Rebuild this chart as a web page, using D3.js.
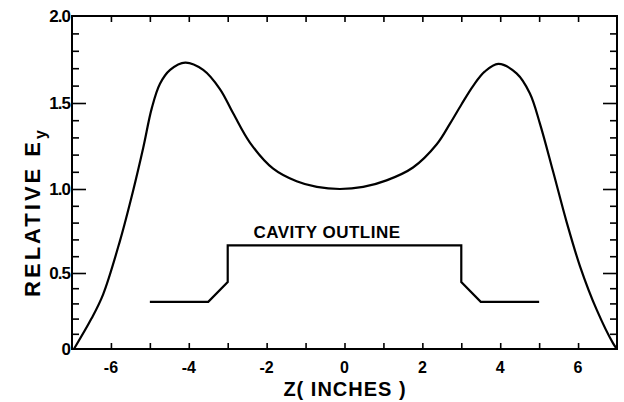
<!DOCTYPE html>
<html>
<head>
<meta charset="utf-8">
<script src="https://cdn.jsdelivr.net/npm/d3@7"></script>
<style>
  body { margin: 0; background: #fff; }
  text { font-family: "Liberation Sans", Arial, sans-serif; fill: #000; }
</style>
</head>
<body>
<svg id="chart" width="624" height="402"></svg>
<script>
// Field curve: relative Ey vs z (inches)
const fieldZ = [-6.95, -6.5, -6.2, -5.77, -5.43, -5.17, -4.95, -4.74, -4.48, -4.09, -3.63, -3.2, -2.86, -2.43, -1.84, -1.23, -0.71, -0.12, 0.48, 1.08, 1.76, 2.37, 2.71, 3.0, 3.31, 3.6, 3.95, 4.42, 4.76, 5.02, 5.36, 5.71, 6.05, 6.48, 6.9, 7.0];
const fieldE = [0.0, 0.2, 0.36, 0.69, 0.99, 1.24, 1.47, 1.61, 1.69, 1.732, 1.69, 1.58, 1.44, 1.27, 1.12, 1.045, 1.012, 1.0, 1.012, 1.05, 1.125, 1.26, 1.38, 1.49, 1.60, 1.68, 1.725, 1.67, 1.556, 1.38, 1.10, 0.80, 0.54, 0.257, 0.037, 0.0];

// Cavity outline
const cavityZ = [-5.0, -3.5, -3.0, -3.0, 3.0, 3.0, 3.5, 5.0];
const cavityH = [0.31, 0.31, 0.44, 0.665, 0.665, 0.44, 0.31, 0.31];

// Tick labels
const xTickValues = [-6, -4, -2, 0, 2, 4, 6];
const xTickLabels = ["-6", "-4", "-2", "0", "2", "4", "6"];
const xMinorValues = [-6, -5, -4, -3, -2, -1, 0, 1, 2, 3, 4, 5, 6];
const yTickValues = [0, 0.5, 1.0, 1.5, 2.0];
const yTickLabels = ["0", "0.5", "1.0", "1.5", "2.0"];
const yMinorValues = [0.1, 0.2, 0.3, 0.4, 0.6, 0.7, 0.8, 0.9, 1.1, 1.2, 1.3, 1.4, 1.6, 1.7, 1.8, 1.9];

const svg = d3.select("#chart");
const L = 72, R = 617, T = 16, B = 349;

const x = d3.scaleLinear().domain([-7, 7]).range([L, R]);
// the scanned figure's vertical axis is slightly non-uniform
const y = d3.scaleLinear().domain([0, 0.5, 1.0, 1.5, 2.0]).range([B, 273, 189, 103, T]);

const g = svg.append("g");

// frame
g.append("rect").attr("x", L).attr("y", T).attr("width", R - L).attr("height", B - T)
  .attr("fill", "none").attr("stroke", "#000").attr("stroke-width", 2);

// x ticks (inward) bottom and top
const bottomAxis = d3.axisBottom(x).tickValues(xMinorValues).tickSize(-6).tickFormat("");
g.append("g").attr("transform", `translate(0,${B})`).call(bottomAxis)
  .call(a => { a.select(".domain").remove(); a.selectAll("line").attr("stroke-width", 1.6); });
const topAxis = d3.axisTop(x).tickValues(xMinorValues).tickSize(-6).tickFormat("");
g.append("g").attr("transform", `translate(0,${T})`).call(topAxis)
  .call(a => { a.select(".domain").remove(); a.selectAll("line").attr("stroke-width", 1.6); });

// y ticks major/minor (inward) left and right
function yTicks(axisFn, tx, vals, size) {
  g.append("g").attr("transform", `translate(${tx},0)`)
    .call(axisFn(y).tickValues(vals).tickSize(size).tickFormat(""))
    .call(a => { a.select(".domain").remove(); a.selectAll("line").attr("stroke-width", 1.6); });
}
yTicks(d3.axisLeft, L, yMinorValues, -7);
yTicks(d3.axisLeft, L, yTickValues.slice(1, 4), -14);
yTicks(d3.axisRight, R, yMinorValues, -7);
yTicks(d3.axisRight, R, yTickValues.slice(1, 4), -14);

// tick labels
g.selectAll(".xl").data(xTickValues).enter().append("text")
  .attr("x", d => x(d)).attr("y", B + 24)
  .attr("text-anchor", "middle").attr("font-size", 16).attr("font-weight", "bold")
  .text((d, i) => xTickLabels[i]);
g.selectAll(".yl").data(yTickValues).enter().append("text")
  .attr("x", L - 2).attr("y", d => y(d) + 6)
  .attr("text-anchor", "end").attr("font-size", 17).attr("font-weight", "bold")
  .attr("letter-spacing", -1)
  .text((d, i) => yTickLabels[i]);

// axis titles
g.append("text").attr("x", 345).attr("y", 396).attr("text-anchor", "middle")
  .attr("font-size", 20).attr("font-weight", "bold").attr("letter-spacing", 1)
  .text("Z( INCHES )");
const yt = g.append("text").attr("transform", "translate(40,212) rotate(-90)")
  .attr("text-anchor", "middle").attr("font-size", 22).attr("font-weight", "bold")
  .attr("letter-spacing", 3);
yt.append("tspan").text("RELATIVE  E");
yt.append("tspan").attr("font-size", 16).attr("dy", 6).text("y");

// field curve
const fieldPts = fieldZ.map((z, i) => [z, fieldE[i]]);
g.append("path").datum(fieldPts)
  .attr("d", d3.line().x(d => x(d[0])).y(d => y(d[1])).curve(d3.curveCatmullRom.alpha(0.5)))
  .attr("fill", "none").attr("stroke", "#000").attr("stroke-width", 2.2);

// cavity outline
const cavPts = cavityZ.map((z, i) => [z, cavityH[i]]);
g.append("path").datum(cavPts)
  .attr("d", d3.line().x(d => x(d[0])).y(d => y(d[1])))
  .attr("fill", "none").attr("stroke", "#000").attr("stroke-width", 2.2);

g.append("text").attr("x", 327).attr("y", 238).attr("text-anchor", "middle")
  .attr("font-size", 17).attr("font-weight", "bold").attr("letter-spacing", 0.5)
  .text("CAVITY  OUTLINE");
</script>
</body>
</html>
